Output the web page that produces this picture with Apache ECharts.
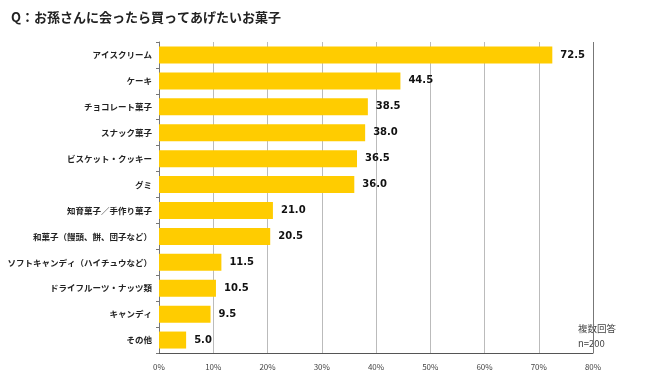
<!DOCTYPE html>
<html><head><meta charset="utf-8">
<script src="https://cdn.jsdelivr.net/npm/echarts@6/dist/echarts.min.js"></script>
<style>html,body{margin:0;padding:0;background:#fff}#c{width:650px;height:383px}</style>
</head><body><div id="c"></div>
<script>
const categories = ["アイスクリーム","ケーキ","チョコレート菓子","スナック菓子","ビスケット・クッキー","グミ","知育菓子／手作り菓子","和菓子（饅頭、餅、団子など）","ソフトキャンディ（ハイチュウなど）","ドライフルーツ・ナッツ類","キャンディ","その他"];
const values = [72.5,44.5,38.5,38.0,36.5,36.0,21.0,20.5,11.5,10.5,9.5,5.0];
const xTicks = [0,10,20,30,40,50,60,70,80];
const titleText = "Q：お孫さんに会ったら買ってあげたいお菓子";
const noteText = "複数回答\nn=200";
const font = '"Noto Sans CJK JP", "Noto Sans", sans-serif';
const chart = echarts.init(document.getElementById('c'));
chart.setOption({
  animation:false,
  title:{text:titleText,left:6,top:6,textStyle:{fontFamily:font,fontSize:13,fontWeight:'bold',color:'#222'}},
  graphic:[{type:'text',left:578,top:321,style:{text:noteText,font:'9.5px '+font,fill:'#444',lineHeight:15}}],
  grid:{left:159,right:57,top:42,bottom:30},
  xAxis:{type:'value',min:0,max:80,interval:10,
    axisLine:{show:true,lineStyle:{color:'#555'}},axisTick:{show:false},
    splitLine:{show:true,lineStyle:{color:['#bbb','#bbb','#bbb','#bbb','#bbb','#bbb','#bbb','#bbb','#777']}},
    axisLabel:{formatter:v=>xTicks.includes(v)?v+'%':'',fontSize:8,color:'#444',margin:10,fontFamily:font}},
  yAxis:{type:'category',inverse:true,data:categories,
    axisLine:{show:true,lineStyle:{color:'#777'}},
    axisTick:{show:true,length:3,lineStyle:{color:'#777'}},
    axisLabel:{fontSize:8.5,fontWeight:'bold',color:'#222',margin:7,fontFamily:font}},
  series:[{type:'bar',data:values,barWidth:17,itemStyle:{color:'#FFCC00'},
    label:{show:true,position:'right',distance:8,formatter:p=>p.value.toFixed(1),fontSize:10,fontWeight:'bold',color:'#111',fontFamily:'"DejaVu Sans", sans-serif'}}]
});
</script></body></html>
